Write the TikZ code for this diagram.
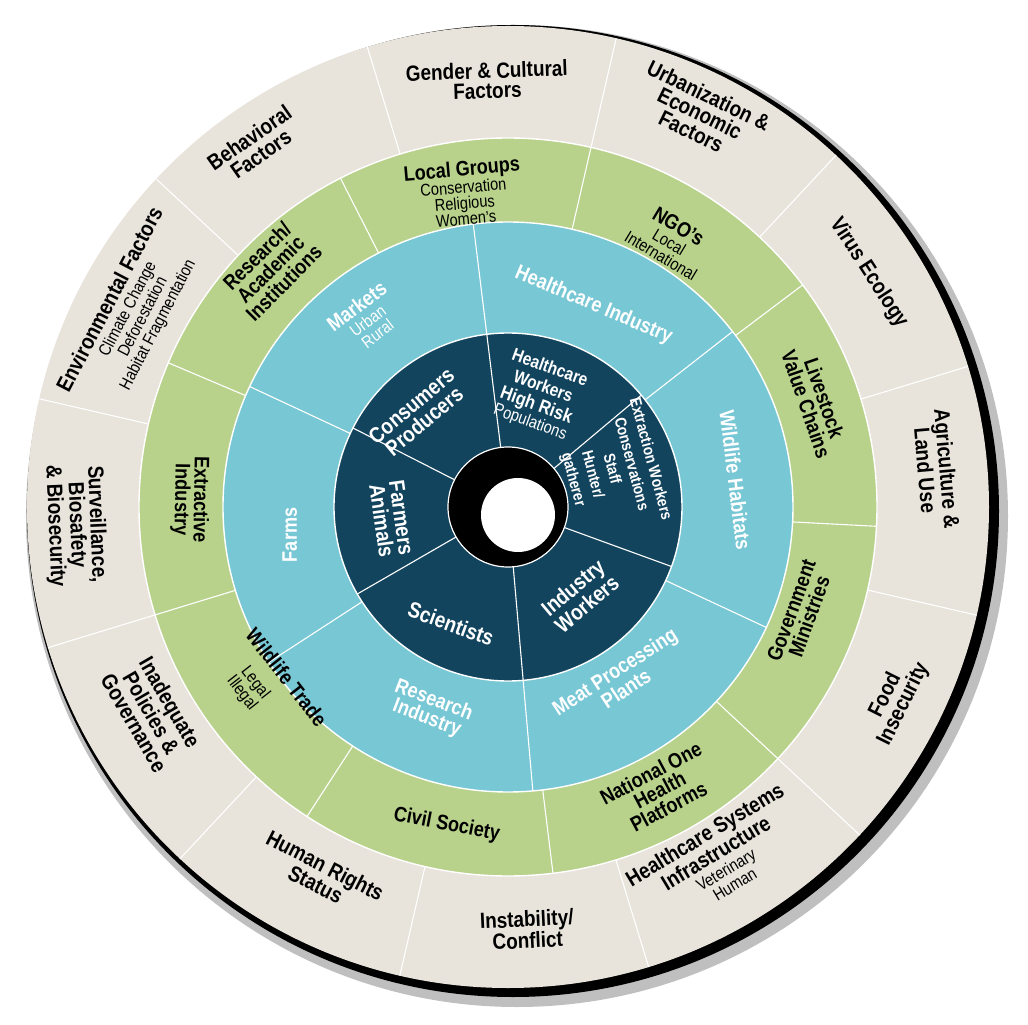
\documentclass[tikz,border=0pt]{standalone}
\usepackage{fontspec}
\setmainfont{Liberation Sans}[FakeStretch=0.86]
\definecolor{beige}{HTML}{E8E3DB}
\definecolor{grn}{HTML}{B8D28B}
\definecolor{blu}{HTML}{78C7D5}
\definecolor{drk}{HTML}{13445E}
\tikzset{
 olab/.style={font=\bfseries\fontsize{22}{20}\selectfont,text=black,align=center,inner sep=0pt},
 glab/.style={font=\bfseries\fontsize{21}{19}\selectfont,text=black,align=center,inner sep=0pt},
 blab/.style={font=\bfseries\fontsize{21}{19}\selectfont,text=white,align=center,inner sep=0pt},
 dlab/.style={font=\bfseries\fontsize{22}{20}\selectfont,text=white,align=center,inner sep=0pt},
 divider/.style={white,line width=1.1pt}
}
\newcommand\sub[1]{{\mdseries\fontsize{17}{15}\selectfont #1}}
\newcommand\lab[5]{\node[#5,rotate=#3] at (#1:#2) {#4};}
\newcommand\spokes[3]{\foreach \a in {#3} {\draw[divider] (\a:#1) -- (\a:#2);}}
\begin{document}
\begin{tikzpicture}[x=1pt,y=1pt]
\useasboundingbox (-508,507) rectangle (520,-518);
\fill[black!25] (9,-9) circle (491);
\fill[black] (5,-4) circle (486);
\fill[beige] (0,0) circle (481);
\fill[grn] (0,0) circle (369);
\fill[blu] (0,0) circle (285);
\fill[drk] (0,0) circle (174);
\draw[white,line width=1.4pt] (0,0) circle (369) (0,0) circle (285) (0,0) circle (174);
\spokes{369}{481}{17,47,77,107,137,167,197,227,257,287,317,347}
\spokes{285}{369}{117,77,37,-3,-43,-83,-123,-163,157}
\spokes{174}{285}{97,38,-25,-85,-147,155}
\spokes{60}{174}{97,40,-20,-85,-150,153}
\fill[black] (0,0) circle (60);
\draw[white,line width=1.2pt] (0,0) circle (60);
\fill[white] (10,-8) circle (37);
% outer labels
\lab{92.8}{427}{2}{Gender \& Cultural\\Factors}{olab}
\lab{64}{438}{-26}{Urbanization \&\\Economic\\Factors}{olab}
\lab{33}{430}{-57}{Virus Ecology}{olab}
\lab{5}{430}{-85}{Agriculture \&\\Land Use}{olab}
\lab{-26.5}{432}{63.5}{Food\\Insecurity}{olab}
\lab{-59}{410}{31}{Healthcare Systems\\Infrastructure\\[-2pt]\sub{Veterinary}\\[-3pt]\sub{Human}}{olab}
\lab{-87.4}{423}{2.6}{Instability/\\Conflict}{olab}
\lab{-117}{413}{-27}{Human Rights\\Status}{olab}
\lab{-150}{411}{-60}{Inadequate\\Policies \&\\Governance}{olab}
\lab{-177.6}{433}{-87.6}{Surveillance,\\Biosafety\\\& Biosecurity}{olab}
\lab{152.5}{422}{62.5}{Environmental Factors\\[-2pt]\sub{Climate Change}\\[-3pt]\sub{Deforestation}\\[-3pt]\sub{Habitat Fragmentation}}{olab}
\lab{125}{441}{35}{Behavioral\\Factors}{olab}
% green labels
\lab{98}{317}{5}{Local Groups\\[-2pt]\sub{Conservation}\\[-3pt]\sub{Religious}\\[-3pt]\sub{Women's}}{glab}
\lab{58.7}{312}{-31}{NGO's\\[-2pt]\sub{Local}\\[-3pt]\sub{International}}{glab}
\lab{19}{325}{-71}{Livestock\\Value Chains}{glab}
\lab{-20}{311}{70}{Government\\Ministries}{glab}
\lab{-61.8}{321}{28}{National One\\Health\\Platforms}{glab}
\lab{-100.9}{324}{-11}{Civil Society}{glab}
\lab{-142.4}{302}{-52}{Wildlife Trade\\[6pt]\hspace*{-30pt}\sub{Legal}\\[-2pt]\hspace*{-30pt}\sub{Illegal}}{glab}
\lab{178.7}{318}{-91}{Extractive\\Industry}{glab}
\lab{135}{336}{45}{Research/\\Academic\\Institutions}{glab}
% blue labels
\lab{127}{235}{37}{Markets\\[-2pt]\sub{Urban}\\[-3pt]\sub{Rural}}{blab}
\lab{67}{219}{-23}{Healthcare Industry}{blab}
\lab{6.8}{229}{-83}{Wildlife Habitats}{blab}
\lab{-57}{206}{33}{Meat Processing\\Plants}{blab}
\lab{-111}{217}{-21}{Research\\Industry}{blab}
\lab{-172.7}{220}{90}{Farms}{blab}
% dark labels
\lab{134}{130}{40}{Consumers\\Producers}{dlab}
\lab{74}{116}{-20}{\fontsize{18}{16}\selectfont Healthcare\\\fontsize{18}{16}\selectfont Workers\\\fontsize{19}{17}\selectfont High Risk\\[-3pt]\sub{Populations}}{dlab}
\lab{20}{110}{-75}{\fontsize{16}{14}\selectfont Extraction Workers\\\fontsize{16}{14}\selectfont Conservations\\\fontsize{16}{14}\selectfont Staff\\\fontsize{16}{14}\selectfont Hunter/\\\fontsize{16}{14}\selectfont gatherer}{dlab}
\lab{-51}{114}{40}{Industry\\Workers}{dlab}
\lab{-116}{130}{-20}{Scientists}{dlab}
\lab{-174}{117}{-82}{Farmers\\Animals}{dlab}
\end{tikzpicture}
\end{document}
